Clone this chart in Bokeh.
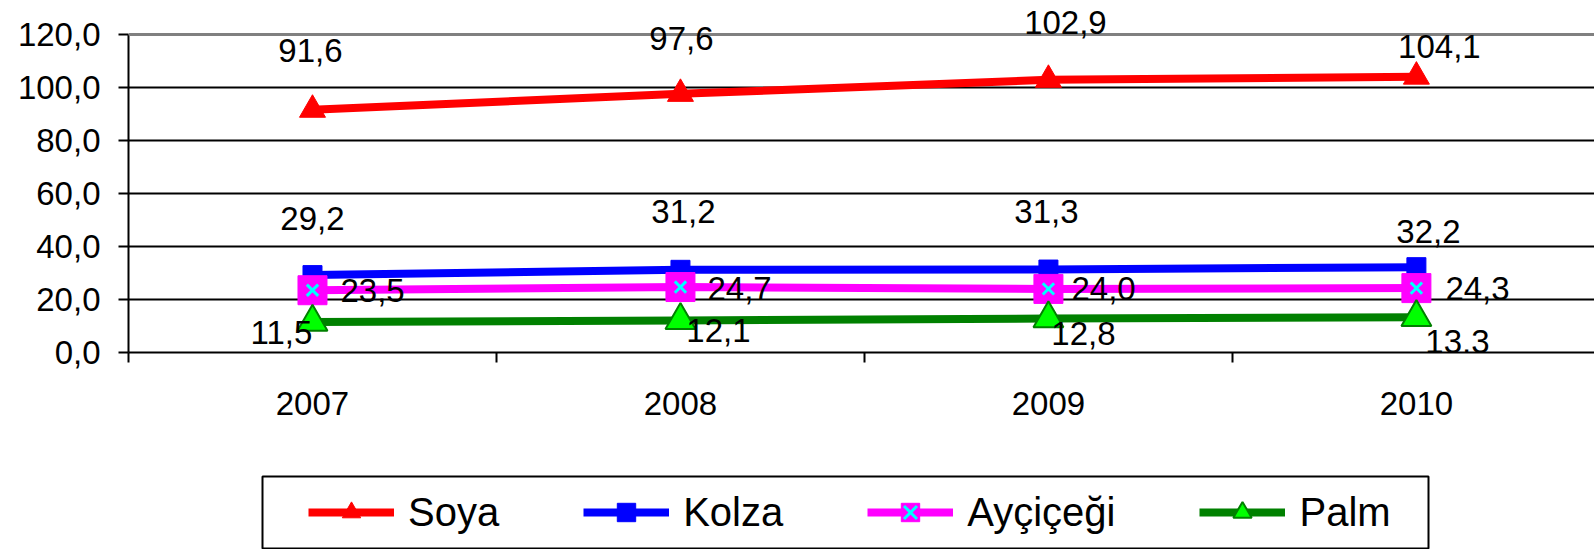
from bokeh.plotting import figure
from bokeh.layouts import column
from bokeh.models import (ColumnDataSource, Range1d, FixedTicker, CustomJSTickFormatter,
                          Span, Legend, LegendItem, LabelSet, BoxAnnotation)
from bokeh.core.properties import value
from bokeh.embed import file_html
from bokeh.resources import INLINE

# ---- data ----
years = ["2007", "2008", "2009", "2010"]
soya = [91.6, 97.6, 102.9, 104.1]
kolza = [29.2, 31.2, 31.3, 32.2]
aycicegi = [23.5, 24.7, 24.0, 24.3]
palm = [11.5, 12.1, 12.8, 13.3]
y_ticks = [0, 20, 40, 60, 80, 100, 120]

# ---- label placement (screen px offsets, styling only) ----
soya_dx, soya_dy = [-2, 1, 17, 23], [59, 55, 57, 30]
kolza_dx, kolza_dy = [0, 3, -2, 12], [57, 58, 58, 36]
ayc_dx, ayc_dy = [28, 27, 23, 29], [0, -1, 0, 0]
palm_dx, palm_dy = [-31, 38, 35, 41], [-10, -10, -15, -24]

FONT = "Liberation Sans"
FS = "33px"
LW = 8

xs = list(range(len(years)))

# ---------------- main chart ----------------
p = figure(width=1594, height=440, output_backend="svg", toolbar_location=None,
           x_range=Range1d(-0.5, 3.484), y_range=Range1d(0, 132.83),
           min_border_left=128, min_border_right=0, min_border_top=0,
           min_border_bottom=88)
p.outline_line_color = None
p.background_fill_color = "white"
p.border_fill_color = "white"

# grid
p.xgrid.visible = False
p.ygrid.ticker = FixedTicker(ticks=y_ticks[1:-1])
p.ygrid.grid_line_color = "black"
p.ygrid.grid_line_width = 2
p.add_layout(Span(location=y_ticks[-1], dimension="width", line_color="#808080", line_width=3))

# y axis
p.yaxis.ticker = FixedTicker(ticks=y_ticks)
p.yaxis.bounds = (y_ticks[0], y_ticks[-1])
p.yaxis.formatter = CustomJSTickFormatter(code="return tick.toFixed(1).replace('.', ',');")
p.yaxis.axis_line_color = "black"
p.yaxis.axis_line_width = 2
p.yaxis.major_tick_out = 10
p.yaxis.major_tick_in = 0
p.yaxis.major_tick_line_width = 2
p.yaxis.minor_tick_line_color = None
p.yaxis.major_label_standoff = 18
p.yaxis.major_label_text_font = FONT
p.yaxis.major_label_text_font_size = FS
p.yaxis.major_label_text_color = "black"

# x axis
p.xaxis.ticker = FixedTicker(ticks=xs, minor_ticks=[i - 0.5 for i in range(len(years) + 1)])
p.xaxis.major_label_overrides = {i: y for i, y in enumerate(years)}
p.xaxis.axis_line_color = "black"
p.xaxis.axis_line_width = 2
p.xaxis.major_tick_line_color = None
p.xaxis.major_tick_out = 0
p.xaxis.major_tick_in = 0
p.xaxis.minor_tick_out = 10
p.xaxis.minor_tick_in = 0
p.xaxis.minor_tick_line_color = "black"
p.xaxis.minor_tick_line_width = 2
p.xaxis.major_label_standoff = 29
p.xaxis.major_label_text_font = FONT
p.xaxis.major_label_text_font_size = FS
p.xaxis.major_label_text_color = "black"


def draw_series(fig):
    r = {}
    r["soya"] = [
        fig.line(xs, soya, line_color="#FF0000", line_width=LW),
        fig.scatter(xs, soya, marker="triangle", size=26, fill_color="#FF0000", line_color="#FF0000"),
    ]
    r["kolza"] = [
        fig.line(xs, kolza, line_color="#0000FF", line_width=LW),
        fig.scatter(xs, kolza, marker="square", size=19, fill_color="#0000FF", line_color="#0000FF"),
    ]
    r["ayc"] = [
        fig.line(xs, aycicegi, line_color="#FF00FF", line_width=LW),
        fig.scatter(xs, aycicegi, marker="square", size=29, fill_color="#FF00FF", line_color="#FF00FF"),
        fig.scatter(xs, aycicegi, marker="x", size=16, line_color="#00FFFF", line_width=3),
    ]
    r["palm"] = [
        fig.line(xs, palm, line_color="#008000", line_width=LW),
        fig.scatter(xs, palm, marker="triangle", size=30, fill_color="#00FF00",
                    line_color="#008000", line_width=2),
    ]
    return r


draw_series(p)


def fmt(v):
    return f"{v:.1f}".replace(".", ",")


def add_labels(vals, dx, dy, align):
    src = ColumnDataSource(dict(x=xs, y=vals, t=[fmt(v) for v in vals], dx=dx, dy=dy))
    p.add_layout(LabelSet(x="x", y="y", text="t", x_offset="dx", y_offset="dy", source=src,
                          text_align=align, text_baseline="middle", text_font=value(FONT),
                          text_font_size=value(FS), text_color="black"))


add_labels(soya, soya_dx, soya_dy, "center")
add_labels(kolza, kolza_dx, kolza_dy, "center")
add_labels(aycicegi, ayc_dx, ayc_dy, "left")
add_labels(palm, palm_dx, palm_dy, "center")

# ---------------- legend strip ----------------
p2 = figure(width=1594, height=109, output_backend="svg", toolbar_location=None,
            x_range=Range1d(100, 101), y_range=Range1d(500, 501),
            min_border_left=128, min_border_right=0, min_border_top=0, min_border_bottom=0)
p2.axis.visible = False
p2.grid.visible = False
p2.outline_line_color = None
p2.background_fill_color = "white"
p2.border_fill_color = "white"
rr = draw_series(p2)

# legend frame box (screen units, relative to the strip's frame)
p2.add_layout(BoxAnnotation(left=134, right=1300, bottom=1, top=73,
                            left_units="screen", right_units="screen",
                            bottom_units="screen", top_units="screen",
                            fill_alpha=0, line_color="black", line_width=2, line_alpha=1))

legend = Legend(items=[
    LegendItem(label="Soya", renderers=rr["soya"]),
    LegendItem(label="Kolza", renderers=rr["kolza"]),
    LegendItem(label="Ayçiçeği", renderers=rr["ayc"]),
    LegendItem(label="Palm", renderers=rr["palm"]),
], orientation="horizontal", location=(180, 14))
legend.label_text_font = FONT
legend.label_text_font_size = "40px"
legend.label_text_color = "black"
legend.glyph_width = 86
legend.glyph_height = 46
legend.label_standoff = 14
legend.spacing = 84
legend.padding = 13
legend.margin = 0
legend.border_line_color = None
legend.background_fill_alpha = 0
p2.add_layout(legend, "center")

layout = column(p, p2, spacing=0)
open("out.html", "w").write(file_html(layout, INLINE))
